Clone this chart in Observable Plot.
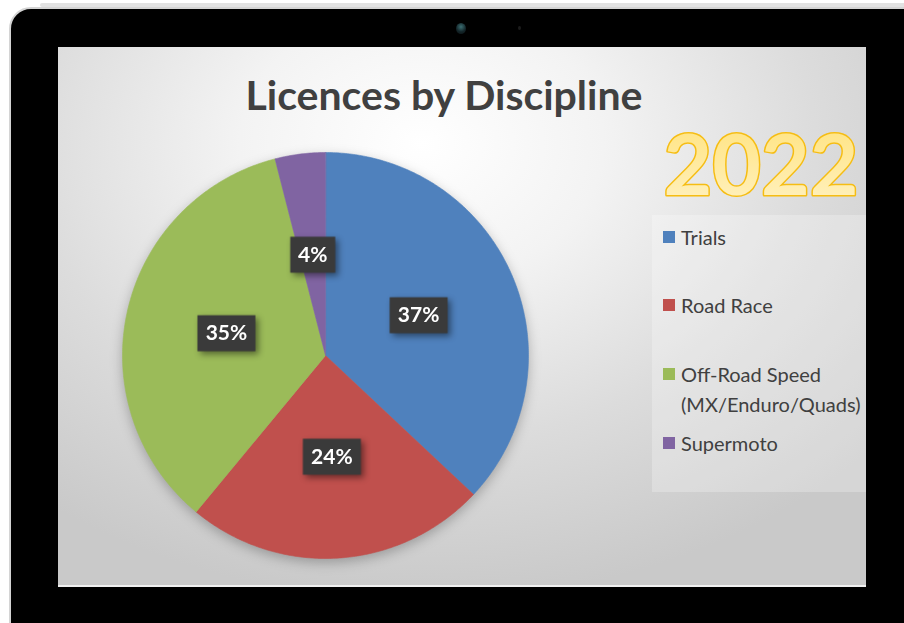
<!DOCTYPE html>
<html>
<head>
<meta charset="utf-8">
<script src="https://cdn.jsdelivr.net/npm/d3@7"></script>
<script src="https://cdn.jsdelivr.net/npm/@observablehq/plot@0.6"></script>
<style>
  html, body { margin:0; padding:0; background:#fff; width:904px; height:623px; overflow:hidden; }
  #topline { position:absolute; left:40px; top:3px; width:870px; height:4px; background:#e2e2e2; border-radius:2px; }
  #frame { position:absolute; left:9px; top:7px; width:930px; height:650px; background:#000;
           border:2px solid #d4d4d4; border-radius:22px; }
  #cam { position:absolute; left:456px; top:23px; width:10px; height:11px; border-radius:50%;
         background:radial-gradient(circle at 50% 35%, #3c6f73 0%, #14262a 55%, #0a1012 100%); }
  #cam2 { position:absolute; left:518px; top:26px; width:3px; height:4px; border-radius:50%; background:#1c1c1c; }
  #screen { position:absolute; left:58px; top:47px; width:808px; height:538px; overflow:hidden;
            background: radial-gradient(ellipse 75% 85% at 45% 18%, #ffffff 0%, #f3f3f3 30%, #dcdcdc 65%, #c9c9c9 100%);
            border-bottom:2px solid #f0f0f0; }
  #title { position:absolute; left:0; width:772px; top:23px; text-align:center;
           font-family: Lato, "Open Sans", sans-serif; font-weight:700; font-size:41px; color:#404040; }
  #legendbox { position:absolute; left:594px; top:168px; width:214px; height:277px; background:rgba(255,255,255,0.25); }
  .item { position:absolute; left:11px; font-family: Lato, "Open Sans", sans-serif; font-size:20px; color:#404040; line-height:30px; }
  .sw { position:absolute; left:0; top:9px; width:12px; height:12px; }
  .lt { position:absolute; left:18px; top:0; white-space:nowrap; }
  #year { position:absolute; left:592px; top:62px; overflow:visible; }
  #chart { position:absolute; left:57px; top:98px; }
</style>
</head>
<body>
<div id="topline"></div>
<div id="frame"></div>
<div id="cam"></div>
<div id="cam2"></div>
<div id="screen">
  <div id="title"></div>
  <svg id="year" width="212" height="104">
    <defs>
      <linearGradient id="yg" x1="0" y1="0" x2="0" y2="1">
        <stop offset="0" stop-color="#ffe27a"/>
        <stop offset="1" stop-color="#fff2c4"/>
      </linearGradient>
    </defs>
    <text id="yeartext" x="111" y="86" text-anchor="middle" font-family="Lato, 'Open Sans', sans-serif" font-weight="700"
          font-size="84" fill="url(#yg)" stroke="#f6bd13" stroke-width="3" paint-order="stroke" stroke-linejoin="round"></text>
  </svg>
  <div id="legendbox"></div>
  <div id="chart"></div>
</div>
<script>
// ---- data ----
const chartTitle = "Licences by Discipline";
const yearLabel = "2022";
const categories = ["Trials", "Road Race", "Off-Road Speed (MX/Enduro/Quads)", "Supermoto"];
const legendLines = [["Trials"], ["Road Race"], ["Off-Road Speed", "(MX/Enduro/Quads)"], ["Supermoto"]];
const shares = [37, 24, 35, 4];
const palette = ["#4f81bd", "#c0504d", "#9bbb59", "#8064a2"];

document.getElementById("title").textContent = chartTitle;
document.getElementById("yeartext").textContent = yearLabel;

// legend
const legendTops = [7, 75, 144, 213];
const lb = document.getElementById("legendbox");
categories.forEach((c, i) => {
  const it = document.createElement("div");
  it.className = "item";
  it.style.top = legendTops[i] + "px";
  it.innerHTML = `<div class="sw" style="background:${palette[i]}"></div><div class="lt">${legendLines[i].join("<br>")}</div>`;
  lb.appendChild(it);
});

// ---- pie geometry from data ----
const rows = categories.map((name, i) => ({name, value: shares[i]}));
const arcs = d3.pie().sort(null).value(d => d.value)(rows);
const polyPts = [];
arcs.forEach(a => {
  const name = a.data.name;
  polyPts.push({name, x: 0, y: 0});
  const n = Math.max(8, Math.ceil((a.endAngle - a.startAngle) / 0.01));
  for (let k = 0; k <= n; k++) {
    const t = a.startAngle + (a.endAngle - a.startAngle) * k / n;
    polyPts.push({name, x: Math.sin(t), y: Math.cos(t)});
  }
});
const labelData = arcs.map(a => {
  const m = (a.startAngle + a.endAngle) / 2;
  const text = a.data.value + "%";
  return {name: a.data.name, x: 0.5 * Math.sin(m), y: 0.5 * Math.cos(m), text, w: 19 + 13 * text.length};
});

const rectSymbol = {
  draw(context, size) {
    const w = Math.sqrt(size / Math.PI), h = 36;
    context.rect(-w / 2, -h / 2, w, h);
  }
};

const plot = Plot.plot({
  width: 420, height: 420, margin: 7,
  x: {domain: [-1, 1], axis: null},
  y: {domain: [-1, 1], axis: null},
  r: {type: "identity"},
  color: {domain: categories, range: palette},
  style: {background: "transparent", overflow: "visible"},
  marks: [
    Plot.line(polyPts, {x: "x", y: "y", z: "name", fill: "name", stroke: "name", strokeWidth: 0.6,
      curve: "linear-closed", imageFilter: "drop-shadow(0px 4px 6px rgba(0,0,0,0.25))"}),
    Plot.dot(labelData, {x: "x", y: "y", r: "w", symbol: rectSymbol, fill: "#3a3a3a", stroke: "none",
      imageFilter: "drop-shadow(3px 3px 3px rgba(0,0,0,0.45))"}),
    Plot.text(labelData, {x: "x", y: "y", text: "text", fill: "white", fontSize: 21, fontWeight: "bold",
      fontFamily: "Lato, 'Open Sans', sans-serif"})
  ]
});
document.getElementById("chart").appendChild(plot);
</script>
</body>
</html>
